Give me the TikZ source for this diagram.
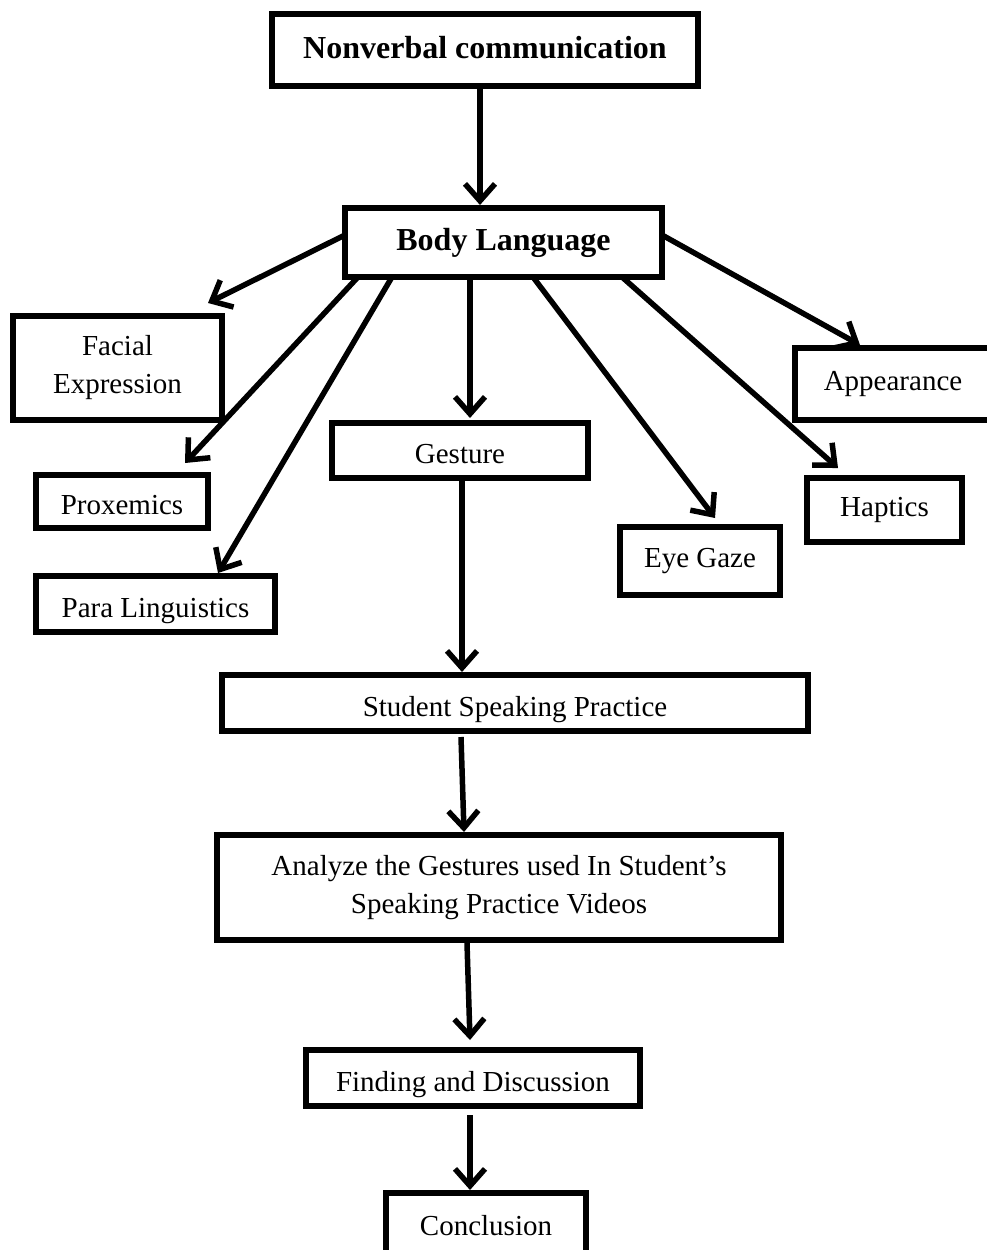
\documentclass[tikz,border=0pt]{standalone}
\usepackage{fontspec}
\setmainfont{Liberation Serif}
\usetikzlibrary{arrows.meta}
\begin{document}
\begin{tikzpicture}[x=1pt,y=-1pt,
  box/.style={draw=black, line width=5.5pt, fill=white, inner sep=0pt, outer sep=0pt, align=center,
    font=\fontsize{29}{38}\selectfont},
  lowtext/.style={text height=26pt, text depth=0pt},
  boldbox/.style={box, font=\fontsize{32}{38}\selectfont\bfseries},
  arr/.style={line width=5.5pt, -{Straight Barb[length=17pt,width=30pt]}}]
\useasboundingbox (0,0) rectangle (986,1250);
% boxes
\node[boldbox, minimum width=426pt, minimum height=72pt, text height=22pt, text depth=5pt] (nv) at (485,50) {Nonverbal communication};
\node[boldbox, minimum width=317pt, minimum height=69pt] (bl) at (503.5,242.5) {Body Language};
\node[box, minimum width=209pt, minimum height=104pt] (fe) at (117.5,368) {Facial\\Expression};
\node[box, lowtext, minimum width=172pt, minimum height=53pt] (px) at (122,501.5) {Proxemics};
\node[box, lowtext, minimum width=239pt, minimum height=56pt] (pl) at (155.5,604) {Para Linguistics};
\node[box, lowtext, minimum width=256pt, minimum height=55pt] (ge) at (460,450.5) {Gesture};
\node[box, minimum width=196pt, minimum height=72pt] (ap) at (893,384) {Appearance};
\node[box, minimum width=155pt, minimum height=64pt] (hp) at (884.5,510) {Haptics};
\node[box, minimum width=160pt, minimum height=68pt] (eg) at (700,561) {Eye Gaze};
\node[box, lowtext, minimum width=586pt, minimum height=56pt] (ss) at (515,703) {Student Speaking Practice};
\node[box, minimum width=564pt, minimum height=105pt] (an) at (499,887.5) {Analyze the Gestures used In Student’s\\Speaking Practice Videos};
\node[box, lowtext, minimum width=334pt, minimum height=56pt] (fd) at (473,1078) {Finding and Discussion};
\node[box, minimum width=200pt, minimum height=66pt] (cc) at (486,1226) {Conclusion};
% connectors
\draw[arr] ([xshift=-5pt]nv.south) -- ([xshift=-23.5pt,yshift=3pt]bl.north);
\draw[arr] ([yshift=7.5pt]bl.west) -- ([xshift=90.5pt,yshift=13pt]fe.north);
\draw[arr] ([xshift=13pt]bl.south west) -- ([xshift=63pt,yshift=12pt]px.north);
\draw[arr] ([xshift=47pt]bl.south west) -- ([xshift=62.5pt,yshift=3pt]pl.north);
\draw[arr] ([xshift=125pt]bl.south west) -- ([xshift=10pt,yshift=5pt]ge.north);
\draw[arr] ([xshift=188pt]bl.south west) -- ([xshift=15pt,yshift=9pt]eg.north);
\draw[arr] ([xshift=277pt]bl.south west) -- ([xshift=-46.5pt,yshift=10pt]hp.north);
\draw[arr] ([yshift=7.5pt]bl.east) -- ([xshift=-33pt,yshift=3pt]ap.north);
\draw[arr] ([xshift=2pt]ge.south) -- ([xshift=-53pt,yshift=3pt]ss.north);
\draw[arr] ([xshift=-54pt,yshift=-6pt]ss.south) -- ([xshift=-35pt,yshift=3pt]an.north);
\draw[arr] ([xshift=-32pt,yshift=-3pt]an.south) -- ([xshift=-3pt,yshift=10pt]fd.north);
\draw[arr] ([xshift=-3pt,yshift=-9pt]fd.south) -- ([xshift=-16pt,yshift=3pt]cc.north);
\end{tikzpicture}
\end{document}
